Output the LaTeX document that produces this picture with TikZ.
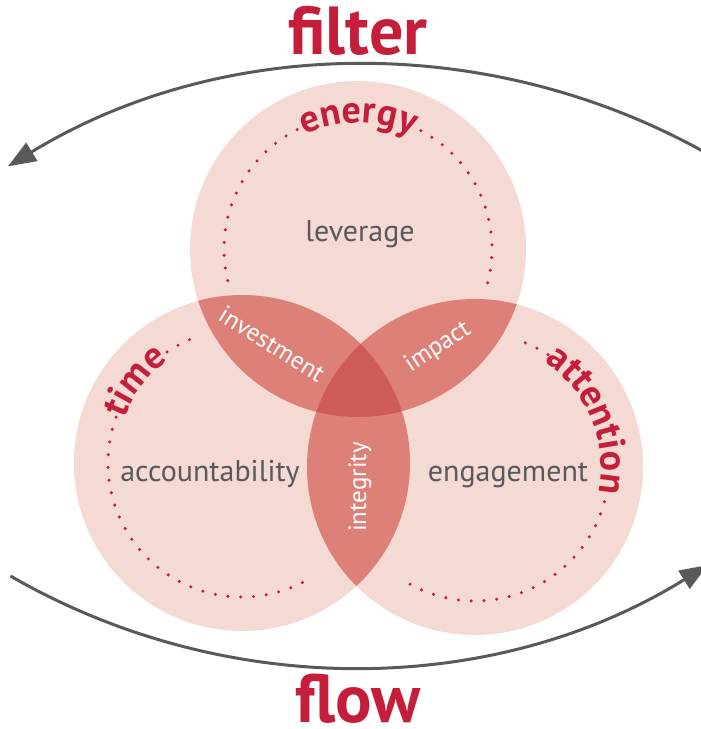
\documentclass[tikz,border=0pt]{standalone}
\usepackage{fontspec}
\setmainfont{PT Sans}
\usetikzlibrary{decorations.text,arrows.meta}
\definecolor{venn}{RGB}{244,218,211}
\definecolor{lens}{RGB}{220,128,120}
\definecolor{core}{RGB}{207,90,90}
\definecolor{brand}{RGB}{197,30,58}
\definecolor{ink}{RGB}{88,89,91}
\newcommand\arcfont{\fontsize{38}{40}\selectfont\bfseries}
\begin{document}
\begin{tikzpicture}[x=1pt,y=1pt,
  dotring/.style={draw=brand, line width=3.4pt, line cap=round, dash pattern=on 0pt off 12.8pt},
  flowarrow/.style={draw=ink, line width=3pt, -{Triangle[length=28pt,width=21pt]}},
  biglabel/.style={inner sep=0pt, text=brand, font=\fontsize{68}{72}\selectfont\bfseries},
  corelabel/.style={inner sep=0pt, text=ink, font=\fontsize{30}{32}\selectfont},
  lenslabel/.style={inner sep=0pt, text=white, font=\fontsize{25}{27}\selectfont},
  arclabel/.style={decorate, decoration={text along path, text align=center, text color=brand}}
]
\useasboundingbox (0,0) rectangle (701,729);
\coordinate (ctop) at (358,480);
\coordinate (cleft) at (242,266);
\coordinate (cright) at (475,262);
\coordinate (topc) at (368.5,-28);
\coordinate (botc) at (350,741);

% circles
\fill[venn] (ctop) circle[radius=168];
\fill[venn] (cleft) circle[radius=168];
\fill[venn] (cright) circle[radius=168];

% dotted rings
\draw[dotring] ([shift={(117:134)}]ctop) arc[start angle=117, end angle=197, radius=134];
\draw[dotring] ([shift={(62:134)}]ctop) arc[start angle=62, end angle=-19, radius=134];
\draw[dotring] ([shift={(160:134)}]cleft) arc[start angle=160, end angle=297, radius=134];
\draw[dotring] ([shift={(124:134)}]cleft) arc[start angle=124, end angle=111, radius=134];
\draw[dotring] ([shift={(57:134)}]cright) arc[start angle=57, end angle=69, radius=134];
\draw[dotring] ([shift={(-15:134)}]cright) arc[start angle=-15, end angle=-122, radius=134];

% lenses
\begin{scope}
  \clip (ctop) circle[radius=168];
  \fill[lens] (cleft) circle[radius=168];
  \fill[lens] (cright) circle[radius=168];
\end{scope}
\begin{scope}
  \clip (cleft) circle[radius=168];
  \fill[lens] (cright) circle[radius=168];
\end{scope}
\begin{scope}
  \clip (ctop) circle[radius=168];
  \clip (cleft) circle[radius=168];
  \fill[core] (cright) circle[radius=168];
\end{scope}

% curved labels
\path[arclabel, decoration={text={|\arcfont|energy}}]
  ([shift={(180:126)}]ctop) arc[start angle=180, end angle=0, radius=126];
\path[arclabel, decoration={text={|\arcfont|time}}]
  ([shift={(232.5:126)}]cleft) arc[start angle=232.5, end angle=52.5, radius=126];
\path[arclabel, decoration={text={|\arcfont|attention}}]
  ([shift={(112.3:126)}]cright) arc[start angle=112.3, end angle=-67.7, radius=126];

% labels
\node[biglabel, anchor=base] (filter) at (358,674) {filter};
\node[biglabel, anchor=base] (flow) at (358,6) {flow};
\node[corelabel, anchor=base] (leverage) at (360,487) {leverage};
\node[corelabel, anchor=base] (accountability) at (210,247) {accountability};
\node[corelabel, anchor=base] (engagement) at (508,247) {engagement};
\node[lenslabel, rotate=-32] (investment) at (272,385) {investment};
\node[lenslabel, rotate=33] (impact) at (438,382) {impact};
\node[lenslabel, rotate=90] (integrity) at (360,242) {integrity};

% cycle arrows
\draw[flowarrow] ([shift={(60:692)}]topc) arc[start angle=60, end angle=121.4, radius=692];
\draw[flowarrow] ([shift={(240:679)}]botc) arc[start angle=240, end angle=301.8, radius=679];
\end{tikzpicture}
\end{document}
